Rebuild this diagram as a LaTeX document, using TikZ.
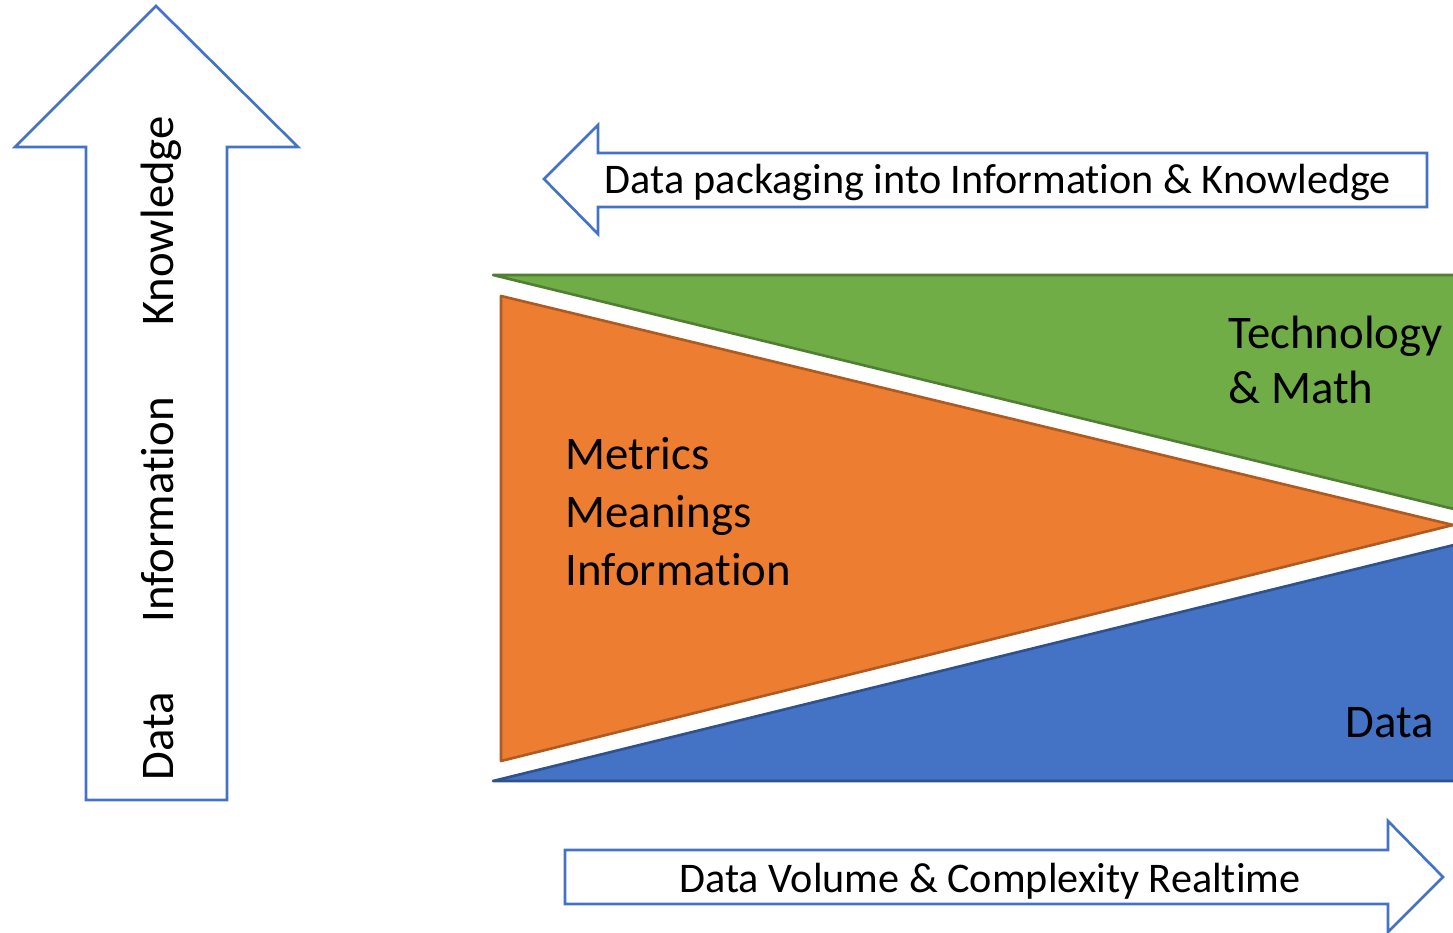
\documentclass[tikz,border=0pt]{standalone}
\usepackage{fontspec}
\setmainfont[Ligatures={NoCommon,NoContextual}]{Carlito}
\usetikzlibrary{positioning}
\definecolor{myblue}{RGB}{68,114,196}
\definecolor{mybluedark}{RGB}{47,82,143}
\definecolor{mygreen}{RGB}{112,173,71}
\definecolor{mygreendark}{RGB}{80,126,50}
\definecolor{myorange}{RGB}{237,125,49}
\definecolor{myorangedark}{RGB}{174,90,33}
\tikzset{
  outarrow/.style={draw=myblue, fill=white, line width=0.75pt},
  greenwedge/.style={draw=mygreendark, fill=mygreen, line width=0.75pt, line join=round},
  orangewedge/.style={draw=myorangedark, fill=myorange, line width=0.75pt, line join=round},
  bluewedge/.style={draw=mybluedark, fill=myblue, line width=0.75pt, line join=round},
  bigtext/.style={font=\fontsize{13.3}{16.4}\selectfont, inner sep=0pt, align=left},
  arrowtext/.style={font=\fontsize{12}{14}\selectfont, inner sep=0pt}
}

\begin{document}
\begin{tikzpicture}[x=0.01cm, y=-0.01cm]
  \useasboundingbox (0,0) rectangle (1453,933);

  \draw[outarrow] (86,800) -- (86,147) -- (15,147) -- (156,6) -- (298,147)
    -- (227,147) -- (227,800) -- cycle;
  \draw[outarrow] (1427,153) -- (598,153) -- (598,125) -- (544,179)
    -- (598,234) -- (598,207) -- (1427,207) -- cycle;
  \draw[outarrow] (565,850) -- (1388,850) -- (1388,821) -- (1443,877)
    -- (1388,932) -- (1388,904) -- (565,904) -- cycle;

  \begin{scope}
    \clip (0,0) rectangle (1453,933);
    \draw[greenwedge] (493,275) -- (1462,275) -- (1462,511) -- cycle;
    \draw[orangewedge] (501,296) -- (1453,525) -- (501,761) -- cycle;
    \draw[bluewedge] (493,781) -- (1462,781) -- (1462,543) -- cycle;
  \end{scope}

  \node[bigtext, rotate=90, anchor=base] (knowledge) at (173,221) {Knowledge};
  \node[bigtext, rotate=90, anchor=base] (information) at (173,510) {Information};
  \node[bigtext, rotate=90, anchor=base] (datavert) at (173,736) {Data};

  \node[arrowtext, anchor=base west] (packaging) at (604,193)
    {Data packaging into Information \& Knowledge};
  \node[arrowtext, anchor=base] (volume) at (990,892)
    {Data Volume \& Complexity Realtime};

  \node[bigtext, anchor=base west] (metrics) at (565,585)
    {Metrics\\Meanings\\Information};
  \node[bigtext, anchor=base west, font=\fontsize{13.3}{15.4}\selectfont] (techmath)
    at (1228,403) {Technology\\\& Math};
  \node[bigtext, anchor=base west] (datalbl) at (1345,737) {Data};
\end{tikzpicture}
\end{document}
